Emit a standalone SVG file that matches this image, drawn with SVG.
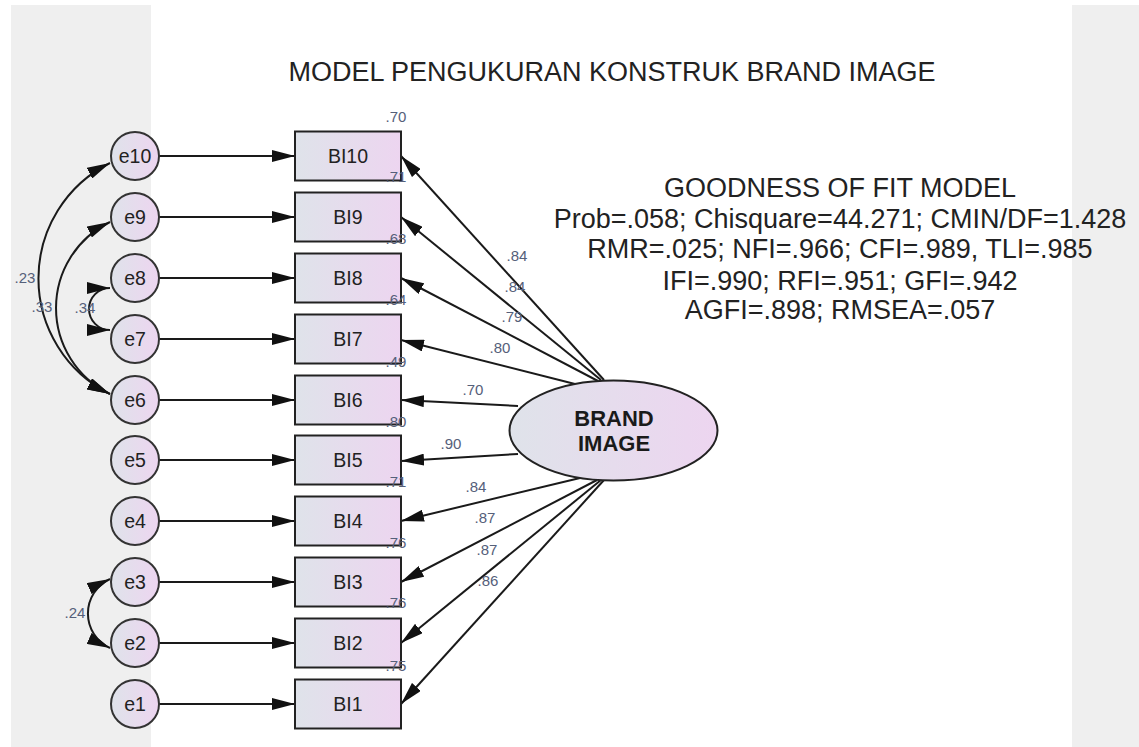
<svg xmlns="http://www.w3.org/2000/svg" width="1139" height="747" viewBox="0 0 1139 747">
  <defs>
    <linearGradient id="fillGrad" x1="0" y1="0" x2="1" y2="0">
      <stop offset="0" stop-color="#dfe3ea"/>
      <stop offset="1" stop-color="#edd5f0"/>
    </linearGradient>
    <marker id="arrow" markerUnits="userSpaceOnUse" markerWidth="23" markerHeight="12" refX="23" refY="6" orient="auto-start-reverse" viewBox="0 0 23 12">
      <path d="M0,0 L23,6 L0,12 z" fill="#111"/>
    </marker>
    <style>
      .panel { fill: #efefef; }
      .err { fill: url(#fillGrad); stroke: #333; stroke-width: 2; }
      .obs { fill: url(#fillGrad); stroke: #222; stroke-width: 2; }
      .lat { fill: url(#fillGrad); stroke: #222; stroke-width: 2; }
      .path { fill: none; stroke: #1a1a1a; stroke-width: 2; marker-end: url(#arrow); }
      .cov { fill: none; stroke: #1a1a1a; stroke-width: 2; marker-start: url(#arrow); marker-end: url(#arrow); }
      .name { font-family: "Liberation Sans", Arial, sans-serif; font-size: 19.5px; fill: #222; text-anchor: middle; }
      .latname { font-family: "Liberation Sans", Arial, sans-serif; font-size: 22px; font-weight: bold; fill: #1a1a1a; text-anchor: middle; }
      .num { font-family: "Liberation Sans", Arial, sans-serif; font-size: 15px; fill: #55607a; text-anchor: middle; }
      .head { font-family: "Liberation Sans", Arial, sans-serif; font-size: 27px; fill: #222; text-anchor: middle; }
    </style>
  </defs>

  <rect width="1139" height="747" fill="#fff"/>
  <rect class="panel" x="11" y="5" width="140" height="742"/>
  <rect class="panel" x="1072" y="5" width="67" height="742"/>

  <text class="head" x="612" y="81">MODEL PENGUKURAN KONSTRUK BRAND IMAGE</text>

  <g id="fit-stats">
    <text class="head" x="840" y="197">GOODNESS OF FIT MODEL</text>
    <text class="head" x="840" y="228">Prob=.058; Chisquare=44.271; CMIN/DF=1.428</text>
    <text class="head" x="840" y="258">RMR=.025; NFI=.966; CFI=.989, TLI=.985</text>
    <text class="head" x="840" y="290">IFI=.990; RFI=.951; GFI=.942</text>
    <text class="head" x="840" y="319">AGFI=.898; RMSEA=.057</text>
  </g>

  <g id="connectors">
    <!-- error terms to indicators -->
    <line class="path" x1="159" y1="156" x2="295" y2="156"/>
    <line class="path" x1="159" y1="217" x2="295" y2="217"/>
    <line class="path" x1="159" y1="278" x2="295" y2="278"/>
    <line class="path" x1="159" y1="339" x2="295" y2="339"/>
    <line class="path" x1="159" y1="400" x2="295" y2="400"/>
    <line class="path" x1="159" y1="460" x2="295" y2="460"/>
    <line class="path" x1="159" y1="521" x2="295" y2="521"/>
    <line class="path" x1="159" y1="582" x2="295" y2="582"/>
    <line class="path" x1="159" y1="643" x2="295" y2="643"/>
    <line class="path" x1="159" y1="704" x2="295" y2="704"/>

    <!-- latent factor to indicators -->
    <line class="path" x1="604" y1="380" x2="401" y2="156"/>
    <line class="path" x1="601" y1="380" x2="401" y2="217"/>
    <line class="path" x1="598" y1="381" x2="401" y2="278"/>
    <line class="path" x1="575" y1="384" x2="401" y2="340"/>
    <line class="path" x1="518" y1="406" x2="401" y2="400"/>
    <line class="path" x1="518" y1="454" x2="401" y2="461"/>
    <line class="path" x1="580" y1="478" x2="401" y2="521"/>
    <line class="path" x1="597" y1="480" x2="401" y2="582"/>
    <line class="path" x1="601" y1="480" x2="401" y2="643"/>
    <line class="path" x1="604" y1="480" x2="401" y2="704"/>

    <!-- error covariances -->
    <path class="cov" d="M110,163 A129,129 0 0,0 110,394"/>
    <path class="cov" d="M110,222 A95.5,95.5 0 0,0 110,394"/>
    <path class="cov" d="M110,288 A21,21 0 0,0 110,330"/>
    <path class="cov" d="M110,579 A38,38 0 0,0 110,648"/>

    <!-- covariance values -->
    <text class="num" x="25" y="283">.23</text>
    <text class="num" x="42" y="312">.33</text>
    <text class="num" x="85" y="313">.34</text>
    <text class="num" x="75" y="618">.24</text>

    <!-- loadings -->
    <text class="num" x="517" y="261">.84</text>
    <text class="num" x="515" y="292">.84</text>
    <text class="num" x="512" y="322">.79</text>
    <text class="num" x="500" y="353">.80</text>
    <text class="num" x="473" y="395">.70</text>
    <text class="num" x="451" y="449">.90</text>
    <text class="num" x="476" y="492">.84</text>
    <text class="num" x="485" y="523">.87</text>
    <text class="num" x="487" y="555">.87</text>
    <text class="num" x="488" y="586">.86</text>
  </g>

  <g id="BRAND_IMAGE">
    <ellipse class="lat" cx="613.5" cy="430.5" rx="104" ry="50"/>
    <text class="latname" x="614" y="426">BRAND</text>
    <text class="latname" x="614" y="451">IMAGE</text>
  </g>

  <g id="BI10"><rect class="obs" x="295" y="131.5" width="106" height="49"/><text class="name" x="348" y="163">BI10</text><text class="num" x="396" y="122">.70</text></g>
  <g id="BI9"><rect class="obs" x="295" y="192.5" width="106" height="49"/><text class="name" x="348" y="224">BI9</text><text class="num" x="396" y="182">.71</text></g>
  <g id="BI8"><rect class="obs" x="295" y="253.5" width="106" height="49"/><text class="name" x="348" y="285">BI8</text><text class="num" x="396" y="244">.68</text></g>
  <g id="BI7"><rect class="obs" x="295" y="314.5" width="106" height="49"/><text class="name" x="348" y="346">BI7</text><text class="num" x="396" y="305">.64</text></g>
  <g id="BI6"><rect class="obs" x="295" y="375.5" width="106" height="49"/><text class="name" x="348" y="407">BI6</text><text class="num" x="396" y="367">.49</text></g>
  <g id="BI5"><rect class="obs" x="295" y="435.5" width="106" height="49"/><text class="name" x="348" y="467">BI5</text><text class="num" x="396" y="427">.80</text></g>
  <g id="BI4"><rect class="obs" x="295" y="496.5" width="106" height="49"/><text class="name" x="348" y="528">BI4</text><text class="num" x="396" y="487">.71</text></g>
  <g id="BI3"><rect class="obs" x="295" y="557.5" width="106" height="49"/><text class="name" x="348" y="589">BI3</text><text class="num" x="396" y="548">.76</text></g>
  <g id="BI2"><rect class="obs" x="295" y="618.5" width="106" height="49"/><text class="name" x="348" y="650">BI2</text><text class="num" x="396" y="608">.76</text></g>
  <g id="BI1"><rect class="obs" x="295" y="679.5" width="106" height="49"/><text class="name" x="348" y="711">BI1</text><text class="num" x="396" y="671">.75</text></g>

  <g id="e10"><circle class="err" cx="135" cy="156" r="24"/><text class="name" x="135" y="163">e10</text></g>
  <g id="e9"><circle class="err" cx="135" cy="217" r="24"/><text class="name" x="135" y="224">e9</text></g>
  <g id="e8"><circle class="err" cx="135" cy="278" r="24"/><text class="name" x="135" y="285">e8</text></g>
  <g id="e7"><circle class="err" cx="135" cy="339" r="24"/><text class="name" x="135" y="346">e7</text></g>
  <g id="e6"><circle class="err" cx="135" cy="400" r="24"/><text class="name" x="135" y="407">e6</text></g>
  <g id="e5"><circle class="err" cx="135" cy="460" r="24"/><text class="name" x="135" y="467">e5</text></g>
  <g id="e4"><circle class="err" cx="135" cy="521" r="24"/><text class="name" x="135" y="528">e4</text></g>
  <g id="e3"><circle class="err" cx="135" cy="582" r="24"/><text class="name" x="135" y="589">e3</text></g>
  <g id="e2"><circle class="err" cx="135" cy="643" r="24"/><text class="name" x="135" y="650">e2</text></g>
  <g id="e1"><circle class="err" cx="135" cy="704" r="24"/><text class="name" x="135" y="711">e1</text></g>
</svg>
